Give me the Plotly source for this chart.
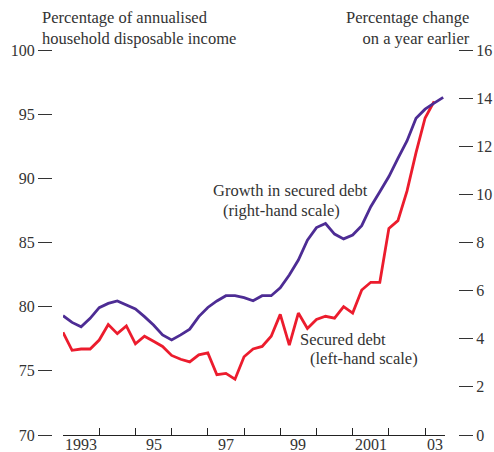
import plotly.graph_objects as go

# Quarterly data, 1993 Q1 onwards
start_year = 1993
secured_debt = [78.0, 76.6, 76.7, 76.7, 77.4, 78.6, 77.9, 78.5, 77.1, 77.7,
                77.3, 76.9, 76.2, 75.9, 75.7, 76.25, 76.4, 74.7, 74.8, 74.35,
                76.1, 76.7, 76.9, 77.7, 79.4, 77.0, 79.5, 78.3, 79.0, 79.25,
                79.1, 80.0, 79.5, 81.3, 81.9, 81.9, 86.1, 86.7, 89.0, 92.0,
                94.7, 96.0]
growth_secured = [4.96, 4.68, 4.50, 4.85, 5.29, 5.47, 5.57, 5.40, 5.24, 4.92,
                  4.57, 4.16, 3.95, 4.16, 4.40, 4.92, 5.30, 5.57, 5.79, 5.79,
                  5.71, 5.58, 5.79, 5.79, 6.12, 6.65, 7.27, 8.10, 8.62, 8.79,
                  8.35, 8.15, 8.31, 8.70, 9.49, 10.11, 10.74, 11.50, 12.22, 13.16,
                  13.54, 13.79, 14.03]

x_red = [start_year + i / 4 for i in range(len(secured_debt))]
x_pur = [start_year + i / 4 for i in range(len(growth_secured))]

year_label_pos = [1993.5, 1995.5, 1997.5, 1999.5, 2001.5, 2003.27]
year_labels = ["1993", "95", "97", "99", "2001", "03"]
year_ticks = list(range(1993, 2004))

left_ticks = [70, 75, 80, 85, 90, 95, 100]
right_ticks = [0, 2, 4, 6, 8, 10, 12, 14, 16]

RED = "#ec1c2d"
PURPLE = "#4d2c94"
TXT = "#333333"
FONT = "Liberation Serif"
FS = 16.5

fig = go.Figure()
fig.add_trace(go.Scatter(x=x_red, y=secured_debt, mode="lines",
                         line=dict(color=RED, width=2.8), yaxis="y"))
fig.add_trace(go.Scatter(x=x_pur, y=growth_secured, mode="lines",
                         line=dict(color=PURPLE, width=2.8), yaxis="y2"))

W, H = 494, 452
ml, mr, mt, mb = 30, 10, 50, 17
pw = W - ml - mr
x0p, x1p = 63, 445


def px(xpix):
    return (xpix - ml) / pw


fig.update_layout(
    width=W, height=H,
    margin=dict(l=ml, r=mr, t=mt, b=mb, autoexpand=False),
    paper_bgcolor="white", plot_bgcolor="white",
    showlegend=False,
    font=dict(family=FONT, size=FS, color=TXT),
    xaxis=dict(
        domain=[px(x0p), px(x1p)],
        range=[1993, 2003.55], automargin=False,
        showgrid=False, zeroline=False,
        showline=True, linecolor="#222222", linewidth=1.3,
        tickmode="array", tickvals=year_ticks, showticklabels=False,
        ticks="inside", ticklen=7, tickwidth=1.3, tickcolor="#222222",
    ),
    yaxis=dict(
        range=[70, 100], anchor="free", position=px(52), automargin=False,
        tickmode="array", tickvals=left_ticks,
        ticks="outside", ticklen=14, tickwidth=1.3, tickcolor="#333333",
        showgrid=False, zeroline=False, showline=False,
        tickfont=dict(family=FONT, size=16, color=TXT),
    ),
    yaxis2=dict(
        range=[0, 16], anchor="free", position=px(458), overlaying="y", side="right",
        automargin=False,
        tickmode="array", tickvals=right_ticks,
        ticks="outside", ticklen=14, tickwidth=1.3, tickcolor="#333333",
        showgrid=False, zeroline=False, showline=False,
        tickfont=dict(family=FONT, size=16, color=TXT),
    ),
)

# Year labels centred between the yearly tick marks, just under the axis line
for xv, lab in zip(year_label_pos, year_labels):
    fig.add_annotation(x=xv, y=0, xref="x", yref="paper", xanchor="center",
                       yanchor="middle", yshift=-9, showarrow=False, text=lab,
                       font=dict(family=FONT, size=16, color=TXT))

ann_font = dict(family=FONT, size=FS, color=TXT)
fig.add_annotation(xref="paper", yref="paper", x=px(40), y=(435 - 28) / 385,
                   xanchor="left", yanchor="middle", align="left", showarrow=False,
                   text="Percentage of annualised<br>household disposable income", font=ann_font)
fig.add_annotation(xref="paper", yref="paper", x=px(472), y=(435 - 28) / 385,
                   xanchor="right", yanchor="middle", align="right", showarrow=False,
                   text="Percentage change<br>on a year earlier", font=ann_font)
fig.add_annotation(x=1997.09, y=89.06, xref="x", yref="y", xanchor="left", yanchor="middle",
                   showarrow=False, text="Growth in secured debt", font=ann_font)
fig.add_annotation(x=1997.36, y=87.5, xref="x", yref="y", xanchor="left", yanchor="middle",
                   showarrow=False, text="(right-hand scale)", font=ann_font)
fig.add_annotation(x=1999.49, y=77.42, xref="x", yref="y", xanchor="left", yanchor="middle",
                   showarrow=False, text="Secured debt", font=ann_font)
fig.add_annotation(x=1999.77, y=76.0, xref="x", yref="y", xanchor="left", yanchor="middle",
                   showarrow=False, text="(left-hand scale)", font=ann_font)

fig.write_html("out.html", config={"displayModeBar": False},
               post_script="document.body.style.margin='0';")
